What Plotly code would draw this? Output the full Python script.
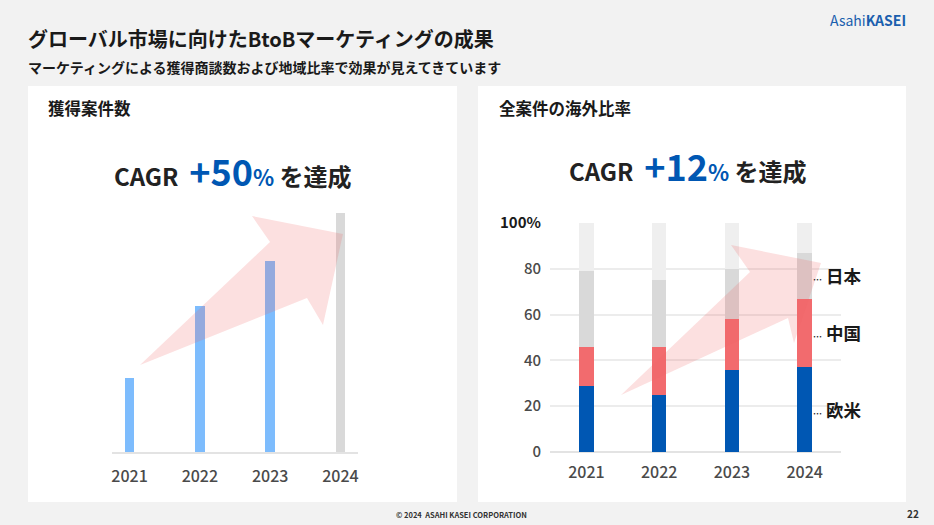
import plotly.graph_objects as go

W, H = 934, 525
def px(x): return x / W
def py(y): return 1 - y / H

# ---- data ----
years = ["2021", "2022", "2023", "2024"]
deals_index = [31, 61, 80, 100]          # 獲得案件数 (relative, 2024 = 100)
deal_colors = ["#7dbcfd", "#7dbcfd", "#7dbcfd", "#d9d9d9"]

share_west = [29, 25, 36, 37]     # 欧米
share_china = [17, 21, 22, 30]    # 中国
share_japan = [33, 29, 22, 20]    # 日本
share_other = [21, 25, 20, 13]   # その他
y_ticks = [0, 20, 40, 60, 80, 100]
y_ticktext = ["0", "20", "40", "60", "80", "<b><span style='color:#1a1a1a'>100%</span></b>"]

FONT = "Noto Sans CJK JP"
BLUE = "#0057b3"
TICK = "#4a4a4a"

fig = go.Figure()

# left chart
fig.add_trace(go.Bar(x=years, y=deals_index, marker=dict(color=deal_colors, line_width=0),
                     width=0.135, xaxis="x", yaxis="y", showlegend=False, hoverinfo="x+y"))

# right chart stacked
for name, vals, col in [("欧米", share_west, "#0057b3"),
                        ("中国", share_china, "#f26b6e"),
                        ("日本", share_japan, "#d9d9d9"),
                        ("その他", share_other, "#efefef")]:
    fig.add_trace(go.Bar(x=years, y=vals, name=name, marker=dict(color=col, line_width=0),
                         width=0.2, xaxis="x2", yaxis="y2", showlegend=False))

shapes = []
# background panels
shapes.append(dict(type="rect", xref="paper", yref="paper", x0=px(28), x1=px(457), y0=py(502), y1=py(86),
                   fillcolor="white", line_width=0, layer="below"))
shapes.append(dict(type="rect", xref="paper", yref="paper", x0=px(478), x1=px(906), y0=py(502), y1=py(86),
                   fillcolor="white", line_width=0, layer="below"))

def arrow(points):
    d = "M " + " L ".join(f"{px(a):.4f},{py(b):.4f}" for a, b in points) + " Z"
    return dict(type="path", xref="paper", yref="paper", path=d,
                fillcolor="rgba(238,100,100,0.2)", line_width=0, layer="above")

shapes.append(arrow([(140, 365), (270, 242), (252, 216), (343, 234), (323, 325), (307, 298)]))
shapes.append(arrow([(621, 395), (750, 272), (731, 245), (821, 263), (794, 343), (788, 318)]))

annotations = []
def ann(text, x, y, size, color="#1a1a1a", xanchor="left", **kw):
    annotations.append(dict(text=text, x=px(x), y=py(y), xref="paper", yref="paper",
                            xanchor=xanchor, yanchor="middle", showarrow=False,
                            font=dict(size=size, color=color, family=FONT), **kw))

ann("<b>グローバル市場に向けたBtoBマーケティングの成果</b>", 26, 38, 20)
ann("<b>マーケティングによる獲得商談数および地域比率で効果が見えてきています</b>", 26, 67, 14)
ann("Asahi<b>KASEI</b>", 908, 20, 14, color="#1b5fae", xanchor="right")
ann("<b>獲得案件数</b>", 46, 108, 16.5)
ann("<b>全案件の海外比率</b>", 497, 108, 16.5)

def cagr(val):
    return ("<b>CAGR</b>  <b><span style='font-size:36px;color:%s'>+%s</span>"
            "<span style='font-size:22px;color:%s'>%%</span></b> <b>を達成</b>" % (BLUE, val, BLUE))
ann(cagr("50"), 233, 170, 24, color="#222222", xanchor="center")
ann(cagr("12"), 688, 165, 24, color="#222222", xanchor="center")

ann("<b>© 2024  ASAHI KASEI CORPORATION</b>", 394, 514, 7.5, color="#333333")
ann("<b>22</b>", 921, 513, 10, color="#333333", xanchor="right")

# region labels at 2024 segment midpoints
mid_w = share_west[3] / 2
mid_c = share_west[3] + share_china[3] / 2
mid_j = share_west[3] + share_china[3] + share_japan[3] / 2
for lab, ym in [("欧米", mid_w), ("中国", mid_c), ("日本", mid_j)]:
    annotations.append(dict(text="<b><span style='font-size:9px'>…</span></b> <b>" + lab + "</b>",
                            x=3, y=ym, xref="x2", yref="y2", xshift=6, xanchor="left",
                            yanchor="middle", showarrow=False,
                            font=dict(size=17.5, color="#1a1a1a", family=FONT)))

fig.update_layout(
    width=W, height=H, autosize=False, margin=dict(l=0, r=0, t=0, b=0, pad=0, autoexpand=False),
    paper_bgcolor="#f2f2f2", plot_bgcolor="rgba(0,0,0,0)",
    barmode="stack", bargap=0,
    font=dict(family=FONT, color=TICK),
    shapes=shapes, annotations=annotations,
    xaxis=dict(domain=[px(112), px(358)], range=[-0.25, 3.25], type="category",
               showgrid=False, showline=True, linecolor="#e3e3e3", linewidth=2,
               ticks="", tickfont=dict(size=16, color=TICK, weight=500), ticklabelstandoff=9,
               fixedrange=True),
    yaxis=dict(domain=[py(452), py(213)], range=[0, 100], visible=False, fixedrange=True),
    xaxis2=dict(domain=[px(550), px(841)], range=[-0.5, 3.5], type="category",
                anchor="y2", showgrid=False, showline=False, ticks="",
                tickfont=dict(size=16, color=TICK, weight=500), ticklabelstandoff=9, fixedrange=True),
    yaxis2=dict(domain=[py(452), py(223)], range=[0, 100], anchor="x2",
                tickvals=y_ticks, ticktext=y_ticktext, showgrid=True, gridcolor="#ececec",
                gridwidth=1.5, zeroline=True, zerolinecolor="#e3e3e3", zerolinewidth=2,
                tickfont=dict(size=15, color=TICK, weight=500), ticks="", ticklabelstandoff=8,
                fixedrange=True),
)

fig.write_html("out.html", config={"displayModeBar": False},
               post_script="document.body.style.margin='0';document.body.style.overflow='hidden';")
